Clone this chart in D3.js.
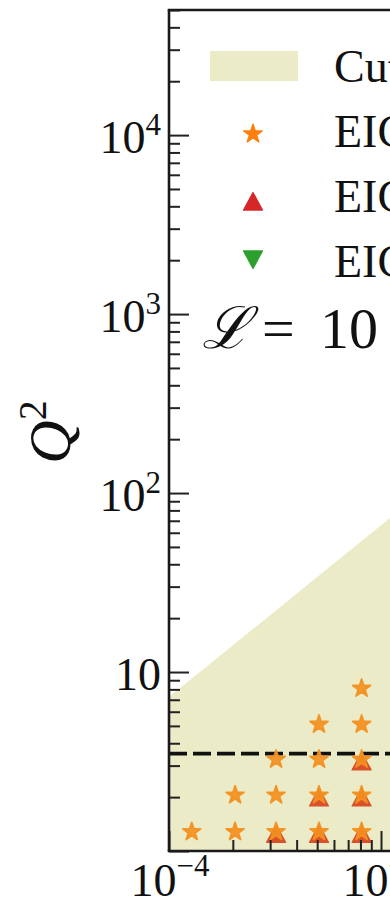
<!DOCTYPE html>
<html>
<head>
<meta charset="utf-8">
<script src="https://cdn.jsdelivr.net/npm/d3@7"></script>
<style>
  body { margin: 0; background: #fff; }
  svg { display: block; }
  text { font-family: "Liberation Serif", "DejaVu Serif", serif; fill: #111; }
</style>
</head>
<body>
<svg id="chart" width="390" height="900"></svg>
<script>
// Kinematic coverage: x (log) vs Q^2 (log)
const starX  = [1.28e-4, 2.05e-4, 2.05e-4, 3.2e-4, 3.2e-4, 3.2e-4, 5.1e-4, 5.1e-4, 5.1e-4, 5.1e-4, 8.1e-4, 8.1e-4, 8.1e-4, 8.1e-4, 8.1e-4];
const starQ2 = [1.28, 1.28, 2.05, 1.28, 2.05, 3.25, 1.28, 2.05, 3.25, 5.1, 1.28, 2.05, 3.25, 5.1, 8.1];
const triUpX  = [3.2e-4, 5.1e-4, 5.1e-4, 8.1e-4, 8.1e-4, 8.1e-4];
const triUpQ2 = [1.24, 1.24, 1.98, 1.24, 1.98, 3.15];
const triDownX  = [];
const triDownQ2 = [];
// upper edge of the allowed (shaded) region
const cutX  = [1e-4, 1e-3, 2e-3];
const cutQ2 = [7.25, 66, 128];
const dashQ2 = 3.5;
const yMajor = [1, 10, 100, 1000, 10000];
const yMajorLabels = [["", ""], ["10", ""], ["10", "2"], ["10", "3"], ["10", "4"]];
const xMajor = [1e-4, 1e-3];
const xMajorLabels = [["10", "\u22124"], ["10", "\u22123"]];
const legendLabels = ["Cuts", "EIC 5\u00d741", "EIC 10\u00d7100", "EIC 18\u00d7275"];
const lumiText = ["\u2112", "=", "10 fb\u207b\u00b9"];

const svg = d3.select("#chart");
const plotLeft = 169, plotTop = 10, plotBottom = 851, plotRight = 600;

const x = d3.scaleLog().domain([1e-4, 1e-3]).range([169, 381]);
const y = d3.scaleLog().domain([1, 5e4]).range([plotBottom, plotTop]);

const colStar = "#f39020", colTri = "#d9502a";
const legStar = "#ff7f0e", legTri = "#d62728", legDown = "#2ca02c", shade = "#ebebc8";

svg.append("clipPath").attr("id", "plotClip")
  .append("rect").attr("x", plotLeft).attr("y", plotTop)
  .attr("width", plotRight - plotLeft).attr("height", plotBottom - plotTop);

const plot = svg.append("g").attr("clip-path", "url(#plotClip)");

// shaded region under the cut boundary
const cutData = cutX.map((v, i) => ({ x: v, q: cutQ2[i] }));
plot.append("path")
  .datum(cutData)
  .attr("fill", shade)
  .attr("d", d3.area().x(d => x(d.x)).y0(y(1)).y1(d => y(d.q)));

// dashed Q^2 threshold
plot.append("line")
  .attr("x1", plotLeft).attr("x2", plotRight)
  .attr("y1", y(dashQ2)).attr("y2", y(dashQ2))
  .attr("stroke", "#111").attr("stroke-width", 3.8)
  .attr("stroke-dasharray", "18,6");

// bounding-box centred triangles
const triUp = { draw(ctx, s) { ctx.moveTo(0, -s); ctx.lineTo(s, s * 0.85); ctx.lineTo(-s, s * 0.85); ctx.closePath(); } };
const triDown = { draw(ctx, s) { ctx.moveTo(0, s); ctx.lineTo(s, -s * 0.85); ctx.lineTo(-s, -s * 0.85); ctx.closePath(); } };
const starSym = d3.symbol().type(d3.symbolStar).size(100);

plot.selectAll("path.tri")
  .data(triUpX.map((v, i) => ({ x: v, q: triUpQ2[i] })))
  .join("path").attr("class", "tri")
  .attr("transform", d => `translate(${x(d.x)},${y(d.q)})`)
  .attr("d", d3.symbol().type(triUp).size(9.5)())
  .attr("fill", colTri).attr("stroke", colTri).attr("stroke-width", 1.2).attr("stroke-linejoin", "round");

plot.selectAll("path.tdown")
  .data(triDownX.map((v, i) => ({ x: v, q: triDownQ2[i] })))
  .join("path").attr("class", "tdown")
  .attr("transform", d => `translate(${x(d.x)},${y(d.q)})`)
  .attr("d", d3.symbol().type(triDown).size(9.5)())
  .attr("fill", legDown);

plot.selectAll("path.star")
  .data(starX.map((v, i) => ({ x: v, q: starQ2[i] })))
  .join("path").attr("class", "star")
  .attr("transform", d => `translate(${x(d.x)},${y(d.q)})`)
  .attr("d", starSym())
  .attr("fill", colStar).attr("fill-opacity", 0.92)
  .attr("stroke", colStar).attr("stroke-opacity", 0.92)
  .attr("stroke-width", 1.8).attr("stroke-linejoin", "round");

// axes with inward ticks
const yMinor = [];
for (let e = 0; e <= 4; e++) for (let m = 2; m <= 9; m++) { const v = m * Math.pow(10, e); if (v <= 5e4) yMinor.push(v); }
const xMinor = [];
for (let e = -4; e <= -3; e++) for (let m = 2; m <= 9; m++) xMinor.push(m * Math.pow(10, e));

function styleAxis(g) {
  g.select(".domain").remove();
  g.selectAll("line").attr("stroke", "#222").attr("stroke-width", 2);
}
svg.append("g").attr("transform", `translate(${plotLeft},0)`)
  .call(d3.axisLeft(y).tickValues(yMajor).tickSize(-20).tickFormat("")).call(styleAxis);
svg.append("g").attr("transform", `translate(${plotLeft},0)`)
  .call(d3.axisLeft(y).tickValues(yMinor).tickSize(-11).tickFormat("")).call(styleAxis);
svg.append("g").attr("transform", `translate(0,${plotBottom})`)
  .call(d3.axisBottom(x).tickValues(xMajor).tickSize(-20).tickFormat("")).call(styleAxis);
svg.append("g").attr("transform", `translate(0,${plotBottom})`)
  .call(d3.axisBottom(x).tickValues(xMinor).tickSize(-11).tickFormat("")).call(styleAxis);

// spines
const spine = svg.append("g").attr("stroke", "#1a1a1a").attr("stroke-width", 2.6).attr("fill", "none");
spine.append("line").attr("x1", plotLeft).attr("x2", plotLeft).attr("y1", plotTop).attr("y2", plotBottom);
spine.append("line").attr("x1", plotLeft - 1.3).attr("x2", plotRight).attr("y1", plotTop).attr("y2", plotTop);
spine.append("line").attr("x1", plotLeft - 1.3).attr("x2", plotRight).attr("y1", plotBottom).attr("y2", plotBottom);

// y tick labels
yMajor.forEach((v, i) => {
  const [base, sup] = yMajorLabels[i];
  if (!base) return;
  const t = svg.append("text").attr("text-anchor", "end")
    .attr("x", 161).attr("y", y(v) + 18).style("font-size", "46px");
  t.append("tspan").text(base);
  if (sup) t.append("tspan").attr("dy", -18).style("font-size", "31px").text(sup);
});

// x tick labels
xMajor.forEach((v, i) => {
  const [base, sup] = xMajorLabels[i];
  const t = svg.append("text").attr("text-anchor", "middle")
    .attr("x", x(v) + 1).attr("y", 896).style("font-size", "46px");
  t.append("tspan").text(base);
  t.append("tspan").attr("dy", -20).style("font-size", "31px").text(sup);
});

// y axis title
const yt = svg.append("text")
  .attr("transform", "translate(70,432) rotate(-90)")
  .attr("text-anchor", "middle").style("font-size", "60px");
yt.append("tspan").style("font-style", "italic").text("Q");
yt.append("tspan").attr("dy", -24).style("font-size", "40px").text("2");

// legend
const leg = svg.append("g");
const rowY = [67, 134, 202, 263];
leg.append("rect").attr("x", 210).attr("y", 51).attr("width", 88).attr("height", 30).attr("fill", shade);
leg.append("path").attr("transform", `translate(253,${rowY[1]})`)
  .attr("d", d3.symbol().type(d3.symbolStar).size(105)()).attr("fill", legStar)
  .attr("stroke", legStar).attr("stroke-width", 1.5).attr("stroke-linejoin", "round");
leg.append("path").attr("transform", `translate(253,${rowY[2]})`)
  .attr("d", d3.symbol().type(triUp).size(9.5)()).attr("fill", legTri)
  .attr("stroke", legTri).attr("stroke-width", 1.2).attr("stroke-linejoin", "round");
leg.append("path").attr("transform", `translate(253,${rowY[3] - 4})`)
  .attr("d", d3.symbol().type(triDown).size(9.5)()).attr("fill", legDown)
  .attr("stroke", legDown).attr("stroke-width", 1.2).attr("stroke-linejoin", "round");
const textBase = [82, 147, 212, 277];
legendLabels.forEach((s, i) => {
  leg.append("text").attr("x", 334).attr("y", textBase[i]).style("font-size", "46px").text(s);
});

// luminosity annotation
const lt = svg.append("text").attr("y", 348).style("font-size", "58px");
lt.append("tspan").attr("x", 202).style("font-style", "italic").text(lumiText[0]);
lt.append("tspan").attr("x", 262).text(lumiText[1]);
lt.append("tspan").attr("x", 320).text(lumiText[2]);
</script>
</body>
</html>
